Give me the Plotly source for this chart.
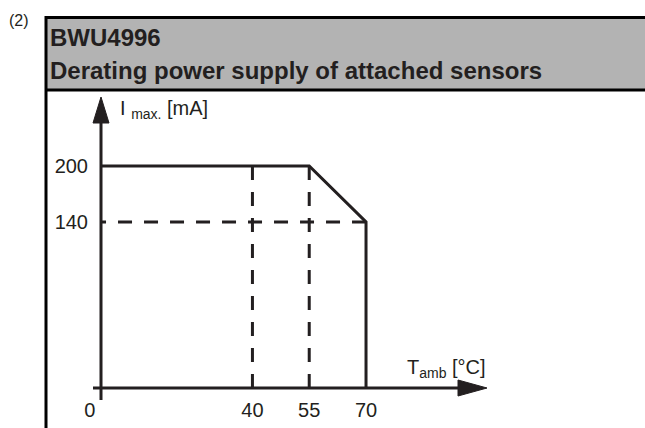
import plotly.graph_objects as go

# ---- data ----
temp_curve = [0, 55, 70, 70]          # T_amb [°C]
imax_curve = [200, 200, 140]          # I_max [mA] (last point drops to the axis)
dash_v_temps = [40, 55]
dash_h_level = 140
x_tick_vals = [0, 40, 55, 70]
x_tick_text = ["0\u00a0\u00a0\u00a0\u00a0", "40", "55", "70"]
y_tick_vals = [140, 200]
y_tick_text = ["140", "200"]
header_code = "BWU4996"
header_title = "Derating power supply of attached sensors"
note = "(2)"

# ---- layout geometry (pixels) ----
W, H = 645, 428
L, R, T, B = 101, 645 - 487, 97, 428 - 388
PW, PH = W - L - R, H - T - B
X_RANGE = [0, PW / 3.786]
Y_RANGE = [200 - (388 - 166) / 0.9333, 200 + (166 - 97) / 0.9333]

def px(x):
    return (x - L) / PW

def py(y):
    return (H - B - y) / PH

INK = "#231f20"
LW = 3

fig = go.Figure()

# derating curve
fig.add_trace(go.Scatter(
    x=temp_curve, y=imax_curve + [Y_RANGE[0]], mode="lines",
    line=dict(color=INK, width=LW), hoverinfo="skip", showlegend=False,
    cliponaxis=False))

# dashed guides
for t in dash_v_temps:
    fig.add_trace(go.Scatter(
        x=[t, t], y=[200, Y_RANGE[0]], mode="lines",
        line=dict(color=INK, width=LW, dash="14px,12px"),
        hoverinfo="skip", showlegend=False))
fig.add_trace(go.Scatter(
    x=[70, 0], y=[dash_h_level, dash_h_level], mode="lines",
    line=dict(color=INK, width=LW, dash="14px,12px"),
    hoverinfo="skip", showlegend=False))

shapes = []
# header box
shapes.append(dict(type="rect", xref="paper", yref="paper",
                   x0=px(46), x1=px(700), y0=py(90), y1=py(17.5),
                   fillcolor="#b3b3b3", line=dict(width=0), layer="below"))
shapes.append(dict(type="line", xref="paper", yref="paper",
                   x0=px(46), x1=px(700), y0=py(17.5), y1=py(17.5),
                   line=dict(color="black", width=3)))
shapes.append(dict(type="line", xref="paper", yref="paper",
                   x0=px(46), x1=px(700), y0=py(90), y1=py(90),
                   line=dict(color="black", width=3)))
shapes.append(dict(type="line", xref="paper", yref="paper",
                   x0=px(46), x1=px(46), y0=py(16), y1=py(440),
                   line=dict(color="black", width=3)))
# axes
shapes.append(dict(type="line", xref="paper", yref="paper",
                   x0=px(101), x1=px(101), y0=py(400), y1=py(115),
                   line=dict(color=INK, width=LW)))
shapes.append(dict(type="line", xref="paper", yref="paper",
                   x0=px(93), x1=px(470), y0=py(388), y1=py(388),
                   line=dict(color=INK, width=LW)))
# arrow heads
shapes.append(dict(type="path", xref="paper", yref="paper",
                   path=f"M {px(101)} {py(97)} L {px(93)} {py(123)} L {px(109)} {py(123)} Z",
                   fillcolor=INK, line=dict(color=INK, width=1)))
shapes.append(dict(type="path", xref="paper", yref="paper",
                   path=f"M {px(487)} {py(388)} L {px(458)} {py(380)} L {px(458)} {py(396)} Z",
                   fillcolor=INK, line=dict(color=INK, width=1)))

FONT = "Liberation Sans, Arial, sans-serif"
annotations = [
    dict(text=note, x=px(7), y=py(20), xref="paper", yref="paper",
         xanchor="left", yanchor="middle", showarrow=False,
         font=dict(size=16, color=INK, family=FONT)),
    dict(text=f"<b>{header_code}</b>", x=px(48), y=py(37), xref="paper", yref="paper",
         xanchor="left", yanchor="middle", showarrow=False,
         font=dict(size=24, color=INK, family=FONT)),
    dict(text=f"<b>{header_title}</b>", x=px(48), y=py(70), xref="paper", yref="paper",
         xanchor="left", yanchor="middle", showarrow=False,
         font=dict(size=24, color=INK, family=FONT)),
    dict(text="I <sub>max.</sub> [mA]", x=px(118), y=py(110), xref="paper", yref="paper",
         xanchor="left", yanchor="middle", showarrow=False,
         font=dict(size=20, color=INK, family=FONT)),
    dict(text="T<sub>amb</sub> [°C]", x=px(488), y=py(368), xref="paper", yref="paper",
         xanchor="right", yanchor="middle", showarrow=False,
         font=dict(size=20, color=INK, family=FONT)),
]

fig.update_layout(
    width=W, height=H, autosize=False,
    margin=dict(l=L, r=R, t=T, b=B, autoexpand=False),
    paper_bgcolor="white", plot_bgcolor="rgba(0,0,0,0)",
    shapes=shapes, annotations=annotations, showlegend=False,
    xaxis=dict(range=X_RANGE, showgrid=False, zeroline=False, showline=False,
               automargin=False,
               tickmode="array", tickvals=x_tick_vals, ticktext=x_tick_text,
               ticks="", ticklabelstandoff=8,
               tickfont=dict(size=20, color=INK, family=FONT), fixedrange=True),
    yaxis=dict(range=Y_RANGE, showgrid=False, zeroline=False, showline=False,
               automargin=False,
               tickmode="array", tickvals=y_tick_vals, ticktext=y_tick_text,
               ticks="", ticklabelstandoff=12,
               tickfont=dict(size=20, color=INK, family=FONT), fixedrange=True),
)

fig.write_html("out.html", config={"displayModeBar": False},
               post_script="document.body.style.margin='0';document.body.style.overflow='hidden';")
